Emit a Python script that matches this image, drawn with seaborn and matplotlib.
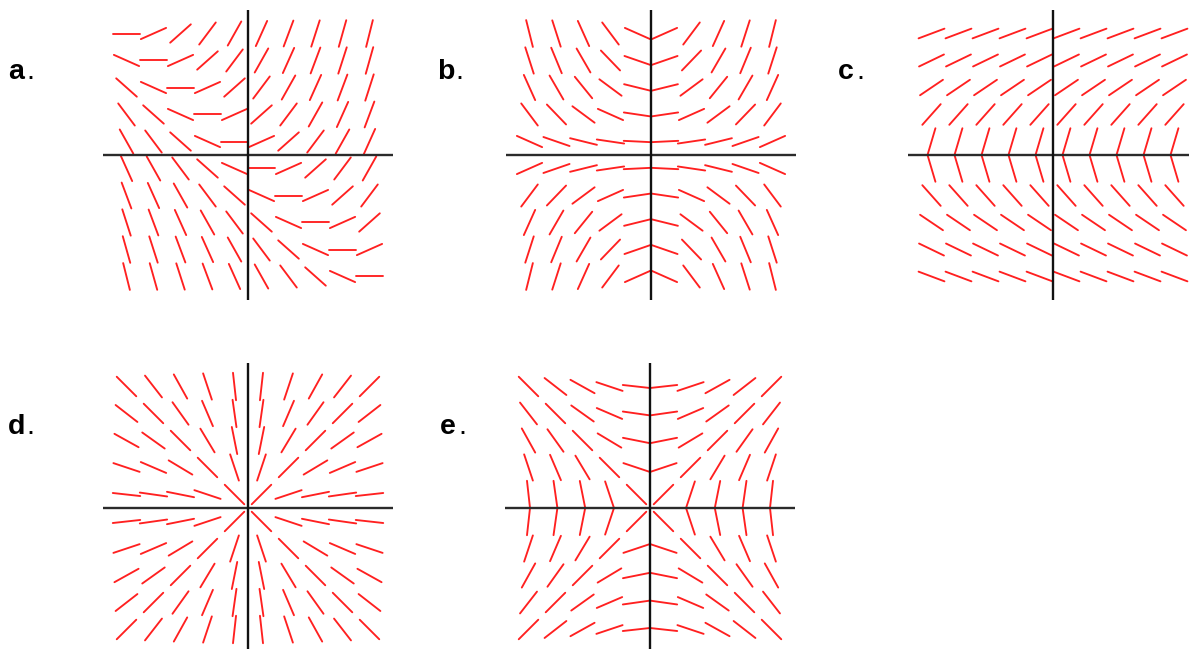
import numpy as np
import pandas as pd
import matplotlib
matplotlib.use("Agg")
import matplotlib.pyplot as plt
import seaborn as sns

# ---- data ----
grid_x = [-2.0, -1.556, -1.111, -0.667, -0.222, 0.222, 0.667, 1.111, 1.556, 2.0]
grid_y = [-2.0, -1.556, -1.111, -0.667, -0.222, 0.222, 0.667, 1.111, 1.556, 2.0]
panel_labels = ["a", "b", "c", "d", "e"]


def slope_a(x, y):
    return x + y


def slope_b(x, y):
    return x * y


def slope_c(x, y):
    return 0.75 / y


def slope_d(x, y):
    return y / x


def slope_e(x, y):
    return x / y


slope_funcs = [slope_a, slope_b, slope_c, slope_d, slope_e]

# ---- layout (pixels) ----
W, H = 1189, 649
centers = [(248, 155), (651, 155), (1053, 155), (248, 508), (650, 508)]
label_pos = [(8, 79), (437, 79), (838, 79), (8, 434), (440, 434)]
HALF = 145          # half size of each panel in px
LIM = 2.387         # data half-range
SEG = 0.455         # segment length in data units

sns.set_theme(style="white")
plt.rcParams["font.family"] = ["Liberation Sans", "DejaVu Sans"]

fig = plt.figure(figsize=(W / 100, H / 100), dpi=100)
fig.patch.set_facecolor("white")


def segments_frame(func):
    rows = []
    k = 0
    for x0 in grid_x:
        for y0 in grid_y:
            m = func(x0, y0)
            d = np.array([1.0, m]) / np.hypot(1.0, m)
            dx, dy = d * SEG / 2
            rows.append({"seg": k, "x": x0 - dx, "y": y0 - dy, "o": 0})
            rows.append({"seg": k, "x": x0 + dx, "y": y0 + dy, "o": 1})
            k += 1
    return pd.DataFrame(rows)


for lab, func, (cx, cy), (lx, ly) in zip(panel_labels, slope_funcs, centers, label_pos):
    left = (cx - HALF) / W
    bottom = (H - (cy + HALF)) / H
    ax = fig.add_axes([left, bottom, 2 * HALF / W, 2 * HALF / H])
    ax.set_facecolor("none")
    df = segments_frame(func)
    sns.lineplot(data=df, x="x", y="y", units="seg", estimator=None, sort=False,
                 color="#ff2020", linewidth=1.35, ax=ax, legend=False)
    ax.axhline(0, color="#2b2b2b", linewidth=1.7, zorder=3)
    ax.axvline(0, color="#111111", linewidth=1.7, zorder=3)
    ax.set_xlim(-LIM, LIM)
    ax.set_ylim(-LIM, LIM)
    ax.set_xlabel("")
    ax.set_ylabel("")
    ax.set_xticks([])
    ax.set_yticks([])
    for s in ax.spines.values():
        s.set_visible(False)
    fig.text(lx / W, 1 - ly / H, lab, fontsize=20.5, fontweight="bold",
             ha="left", va="baseline", color="black")
    fig.text((lx + 18) / W, 1 - ly / H, ".", fontsize=20.5,
             ha="left", va="baseline", color="black")

fig.savefig("out.png", dpi=100)
